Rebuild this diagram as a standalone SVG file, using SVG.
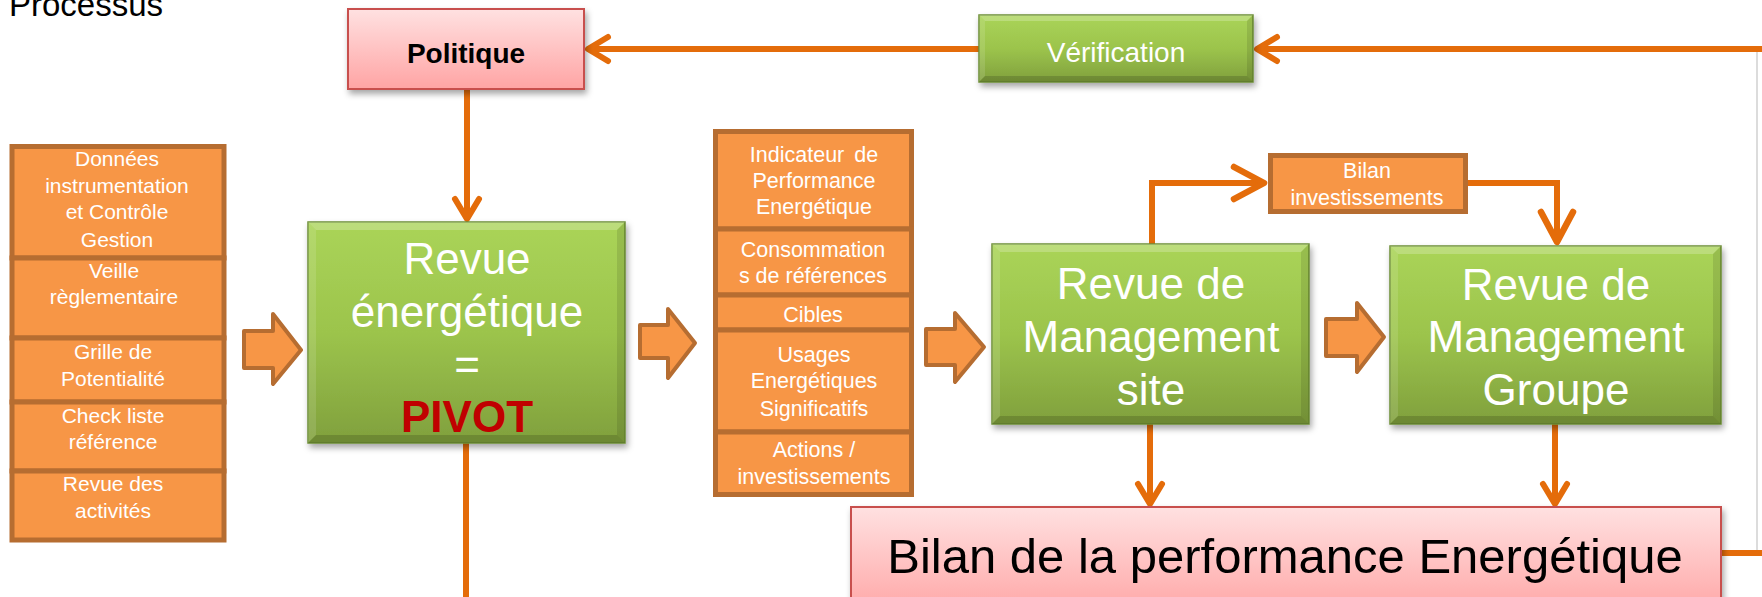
<svg xmlns="http://www.w3.org/2000/svg" width="1762" height="597" viewBox="0 0 1762 597">
<defs>
  <linearGradient id="gGreen" x1="0" y1="0" x2="0" y2="1">
    <stop offset="0" stop-color="#AAD458"/>
    <stop offset="0.5" stop-color="#9CC44C"/>
    <stop offset="1" stop-color="#80A03D"/>
  </linearGradient>
  <linearGradient id="gPink" x1="0" y1="0" x2="0" y2="1">
    <stop offset="0" stop-color="#FFE1E1"/>
    <stop offset="1" stop-color="#FFA4A4"/>
  </linearGradient>
  <filter id="shadow" x="-10%" y="-10%" width="125%" height="130%">
    <feDropShadow dx="2" dy="4" stdDeviation="3" flood-color="#000" flood-opacity="0.35"/>
  </filter>
  <marker id="chevS" markerUnits="userSpaceOnUse" markerWidth="40" markerHeight="40" viewBox="-30 -20 40 40" refX="0" refY="0" orient="auto" overflow="visible">
    <path d="M-20,-12 L0,0 L-20,12" fill="none" stroke="#E46C0A" stroke-width="6" stroke-linecap="round" stroke-linejoin="round"/>
  </marker>
  <marker id="chevL" markerUnits="userSpaceOnUse" markerWidth="50" markerHeight="50" viewBox="-40 -25 50 50" refX="0" refY="0" orient="auto" overflow="visible">
    <path d="M-30,-16 L0,0 L-30,16" fill="none" stroke="#E46C0A" stroke-width="6.5" stroke-linecap="round" stroke-linejoin="round"/>
  </marker>
  <style>
    .t { font-family: "Liberation Sans", Arial, sans-serif; text-anchor: middle; }
    .w { fill: #FFFFFF; }
    .cell { fill: #F79646; stroke: #B66D31; stroke-width: 5; }
    .barrow { fill: #F79646; stroke: #B66D31; stroke-width: 4; stroke-linejoin: round; }
    .green { fill: url(#gGreen); stroke: #6E8F35; stroke-width: 1.5; }
    .pink { fill: url(#gPink); stroke: #C8504D; stroke-width: 2; }
    .bt { fill: #FFFFFF; opacity: 0.22; }
    .bl { fill: #FFFFFF; opacity: 0.12; }
    .br { fill: #000000; opacity: 0.10; }
    .bb { fill: #000000; opacity: 0.15; }
    .con { fill: none; stroke: #E46C0A; stroke-width: 6; stroke-linejoin: miter; }
    .cell-sm { font-size: 21px; }
    .cell-md { font-size: 21.5px; }
    .big { font-size: 44px; }
  </style>
</defs>

<rect x="0" y="0" width="1762" height="597" fill="#FFFFFF"/>

<text id="titre" x="9" y="16" font-family="Liberation Sans, Arial, sans-serif" font-size="33" fill="#000">Processus</text>

<!-- connectors -->
<g id="connectors">
  <line x1="1757" y1="49" x2="1757" y2="553" stroke="#DCDCDC" stroke-width="2"/>
  <path class="con" d="M979,49 H588" marker-end="url(#chevS)"/>
  <path class="con" d="M1721,553 H1766 V49 H1257" marker-end="url(#chevS)"/>
  <path class="con" d="M467,89 V219" marker-end="url(#chevS)"/>
  <path class="con" d="M466,443 V600"/>
  <path class="con" d="M1152,244 V183 H1264" marker-end="url(#chevL)"/>
  <path class="con" d="M1468,183 H1557 V242" marker-end="url(#chevL)"/>
  <path class="con" d="M1150,424 V504" marker-end="url(#chevS)"/>
  <path class="con" d="M1555,424 V504" marker-end="url(#chevS)"/>
</g>

<!-- Politique -->
<g id="politique">
  <rect class="pink" x="348" y="9" width="236" height="80" filter="url(#shadow)"/>
  <text class="t" x="466" y="63" font-size="28" font-weight="bold" fill="#000">Politique</text>
</g>

<!-- Vérification -->
<g id="verification">
  <rect class="green" x="979" y="15" width="274" height="67" filter="url(#shadow)"/>
  <polygon class="bt" points="979,15 1253,15 1247,21 985,21"/>
  <polygon class="bl" points="979,15 985,21 985,76 979,82"/>
  <polygon class="br" points="1253,15 1253,82 1247,76 1247,21"/>
  <polygon class="bb" points="979,82 985,76 1247,76 1253,82"/>
  <text class="t w" x="1116" y="62" font-size="28">Vérification</text>
</g>

<!-- Left stack -->
<g id="entrees">
  <rect class="cell" x="12" y="146.5" width="212" height="111.5"/>
  <rect class="cell" x="12" y="258" width="212" height="80"/>
  <rect class="cell" x="12" y="338" width="212" height="64"/>
  <rect class="cell" x="12" y="402" width="212" height="69"/>
  <rect class="cell" x="12" y="471" width="212" height="69"/>
  <g class="t w cell-sm">
    <text x="117" y="166">Données</text>
    <text x="117" y="193">instrumentation</text>
    <text x="117" y="219">et Contrôle</text>
    <text x="117" y="247">Gestion</text>
    <text x="114" y="278">Veille</text>
    <text x="114" y="304">règlementaire</text>
    <text x="113" y="359">Grille de</text>
    <text x="113" y="386">Potentialité</text>
    <text x="113" y="423">Check liste</text>
    <text x="113" y="449">référence</text>
    <text x="113" y="491">Revue des</text>
    <text x="113" y="518">activités</text>
  </g>
</g>

<!-- block arrows -->
<g id="fleche1"><polygon class="barrow" points="244,331 273,331 273,314 301,350 273,384 273,368 244,368"/></g>
<g id="fleche2"><polygon class="barrow" points="640,325 668,325 668,309 695,343 668,378 668,358 640,358"/></g>
<g id="fleche3"><polygon class="barrow" points="926,329 955,329 955,313 984,347 955,382 955,365 926,365"/></g>
<g id="fleche4"><polygon class="barrow" points="1326,319 1357,319 1357,303 1384,337 1357,372 1357,356 1326,356"/></g>

<!-- Revue énergétique -->
<g id="revue-energetique">
  <rect class="green" x="308" y="222" width="317" height="221" filter="url(#shadow)"/>
  <polygon class="bt" points="308,222 625,222 617,230 316,230"/>
  <polygon class="bl" points="308,222 316,230 316,435 308,443"/>
  <polygon class="br" points="625,222 625,443 617,435 617,230"/>
  <polygon class="bb" points="308,443 316,435 617,435 625,443"/>
  <text class="t w big" x="467" y="274">Revue</text>
  <text class="t w big" x="467" y="327">énergétique</text>
  <text class="t w big" x="467" y="380">=</text>
  <text class="t big" x="467" y="432" font-weight="bold" fill="#C00000">PIVOT</text>
</g>

<!-- Middle stack -->
<g id="sorties">
  <rect class="cell" x="715.5" y="131.5" width="196" height="97.5"/>
  <rect class="cell" x="715.5" y="229" width="196" height="66"/>
  <rect class="cell" x="715.5" y="295" width="196" height="35"/>
  <rect class="cell" x="715.5" y="330" width="196" height="102"/>
  <rect class="cell" x="715.5" y="432" width="196" height="62.5"/>
  <g class="t w cell-md">
    <text x="814" y="162" word-spacing="4">Indicateur de</text>
    <text x="814" y="188">Performance</text>
    <text x="814" y="214">Energétique</text>
    <text x="813" y="257">Consommation</text>
    <text x="813" y="283">s de références</text>
    <text x="813" y="322">Cibles</text>
    <text x="814" y="362">Usages</text>
    <text x="814" y="388">Energétiques</text>
    <text x="814" y="416">Significatifs</text>
    <text x="814" y="457">Actions /</text>
    <text x="814" y="484">investissements</text>
  </g>
</g>

<!-- Revue de Management site -->
<g id="revue-site">
  <rect class="green" x="992" y="244" width="317" height="180" filter="url(#shadow)"/>
  <polygon class="bt" points="992,244 1309,244 1301,252 1000,252"/>
  <polygon class="bl" points="992,244 1000,252 1000,416 992,424"/>
  <polygon class="br" points="1309,244 1309,424 1301,416 1301,252"/>
  <polygon class="bb" points="992,424 1000,416 1301,416 1309,424"/>
  <text class="t w big" x="1151" y="299">Revue de</text>
  <text class="t w big" x="1151" y="352">Management</text>
  <text class="t w big" x="1151" y="405">site</text>
</g>

<!-- Bilan investissements -->
<g id="bilan-invest">
  <rect class="cell" x="1270.5" y="155.5" width="195" height="56"/>
  <text class="t w cell-md" x="1367" y="178">Bilan</text>
  <text class="t w cell-md" x="1367" y="205">investissements</text>
</g>

<!-- Revue de Management Groupe -->
<g id="revue-groupe">
  <rect class="green" x="1390" y="246" width="331" height="178" filter="url(#shadow)"/>
  <polygon class="bt" points="1390,246 1721,246 1713,254 1398,254"/>
  <polygon class="bl" points="1390,246 1398,254 1398,416 1390,424"/>
  <polygon class="br" points="1721,246 1721,424 1713,416 1713,254"/>
  <polygon class="bb" points="1390,424 1398,416 1713,416 1721,424"/>
  <text class="t w big" x="1556" y="300">Revue de</text>
  <text class="t w big" x="1556" y="352">Management</text>
  <text class="t w big" x="1556" y="405">Groupe</text>
</g>

<!-- Bilan de la performance -->
<g id="bilan-performance">
  <rect class="pink" x="851" y="507" width="870" height="110" filter="url(#shadow)"/>
  <text class="t" x="1285" y="573" font-size="49" fill="#000">Bilan de la performance Energétique</text>
</g>
</svg>
